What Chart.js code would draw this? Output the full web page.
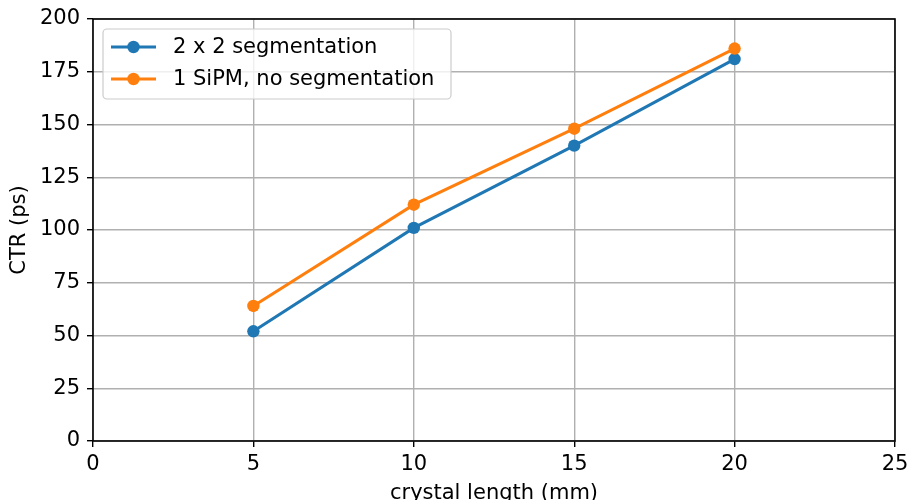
<!DOCTYPE html>
<html>
<head>
<meta charset="utf-8">
<script src="https://cdn.jsdelivr.net/npm/chart.js@4.4.1/dist/chart.umd.min.js"></script>
<style>
  html, body { margin: 0; padding: 0; background: #fff; overflow: hidden; }
  #wrap { width: 909px; height: 500px; }
</style>
</head>
<body>
<div id="wrap"><canvas id="ctr_chart" width="909" height="500"></canvas></div>
<script>
// crystal length (mm) vs coincidence time resolution
const crystal_length = [5, 10, 15, 20];
const ctr_segmented = [52, 101, 140, 181];
const ctr_single = [64, 112, 148, 186];
const series_labels = ["2 x 2 segmentation", "1 SiPM, no segmentation"];
const x_ticks = [0, 5, 10, 15, 20, 25];
const y_ticks = [0, 25, 50, 75, 100, 125, 150, 175, 200];

const FONT = "'DejaVu Sans', sans-serif";
const FONT_SIZE = 21;
const BLUE = "#1f77b4";
const ORANGE = "#ff7f0e";

function points(ys) {
    return crystal_length.map((x, i) => ({ x: x, y: ys[i] }));
}

// frame on all four sides + legend box in the upper left
const frame_and_legend = {
    id: "frame_and_legend",
    afterDatasetsDraw(chart) {
        const ctx = chart.ctx;
        const a = chart.chartArea;
        ctx.save();
        ctx.strokeStyle = "#000";
        ctx.lineWidth = 1.6;
        ctx.strokeRect(a.left, a.top, a.right - a.left, a.bottom - a.top);

        // legend
        const bx = a.left + 10, by = a.top + 10, bw = 348, bh = 70, r = 4;
        ctx.beginPath();
        ctx.moveTo(bx + r, by);
        ctx.arcTo(bx + bw, by, bx + bw, by + bh, r);
        ctx.arcTo(bx + bw, by + bh, bx, by + bh, r);
        ctx.arcTo(bx, by + bh, bx, by, r);
        ctx.arcTo(bx, by, bx + bw, by, r);
        ctx.closePath();
        ctx.fillStyle = "rgba(255,255,255,0.8)";
        ctx.fill();
        ctx.strokeStyle = "#cccccc";
        ctx.lineWidth = 1.2;
        ctx.stroke();

        ctx.font = FONT_SIZE + "px " + FONT;
        ctx.textBaseline = "middle";
        ctx.textAlign = "left";
        chart.data.datasets.forEach((ds, i) => {
            const y = by + 18 + i * 32;
            ctx.strokeStyle = ds.borderColor;
            ctx.lineWidth = 3;
            ctx.beginPath();
            ctx.moveTo(bx + 8, y);
            ctx.lineTo(bx + 53, y);
            ctx.stroke();
            ctx.fillStyle = ds.backgroundColor;
            ctx.beginPath();
            ctx.arc(bx + 30.5, y, 6.2, 0, Math.PI * 2);
            ctx.fill();
            ctx.fillStyle = "#000";
            ctx.fillText(ds.label, bx + 70, y + 1);
        });
        ctx.restore();
    }
};

const ctr_config = {
    type: "line",
    data: {
        datasets: [
            {
                label: series_labels[0],
                data: points(ctr_segmented),
                borderColor: BLUE,
                backgroundColor: BLUE,
                borderWidth: 3,
                pointRadius: 6.2,
                pointHoverRadius: 6.2,
                pointBorderWidth: 0,
                order: 1
            },
            {
                label: series_labels[1],
                data: points(ctr_single),
                borderColor: ORANGE,
                backgroundColor: ORANGE,
                borderWidth: 3,
                pointRadius: 6.2,
                pointHoverRadius: 6.2,
                pointBorderWidth: 0,
                order: 0
            }
        ]
    },
    options: {
        responsive: false,
        animation: false,
        events: [],
        layout: { padding: { top: 19, right: 14, left: 0, bottom: 0 } },
        plugins: {
            legend: { display: false },
            tooltip: { enabled: false }
        },
        scales: {
            x: {
                type: "linear",
                min: 0,
                max: 25,
                afterBuildTicks: (s) => { s.ticks = x_ticks.map(v => ({ value: v })); },
                afterFit: (s) => {
                    s.height = 59;
                    // let the last tick label hang past the plot edge
                    s.paddingLeft = 0;
                    s.paddingRight = 0;
                },
                grid: { color: "#b0b0b0", lineWidth: 1.4, tickColor: "#000", tickLength: 6, tickWidth: 1.4 },
                border: { display: false },
                ticks: { color: "#000", font: { family: FONT, size: FONT_SIZE }, padding: 5, maxRotation: 0 },
                title: {
                    display: true,
                    text: "crystal length (mm)",
                    color: "#000",
                    font: { family: FONT, size: FONT_SIZE },
                    padding: { top: 0, bottom: -6 }
                }
            },
            y: {
                min: 0,
                max: 200,
                afterBuildTicks: (s) => { s.ticks = y_ticks.map(v => ({ value: v })); },
                afterFit: (s) => {
                    s.width = 93;
                    s.paddingTop = 0;
                    s.paddingBottom = 0;
                },
                grid: { color: "#b0b0b0", lineWidth: 1.4, tickColor: "#000", tickLength: 6, tickWidth: 1.4 },
                border: { display: false },
                ticks: { color: "#000", font: { family: FONT, size: FONT_SIZE }, padding: 7 },
                title: {
                    display: true,
                    text: "CTR (ps)",
                    color: "#000",
                    font: { family: FONT, size: FONT_SIZE },
                    padding: { top: 7, bottom: 0 }
                }
            }
        }
    },
    plugins: [frame_and_legend]
};

window.onload = function () {
    new Chart(document.getElementById("ctr_chart").getContext("2d"), ctr_config);
};
</script>
</body>
</html>
